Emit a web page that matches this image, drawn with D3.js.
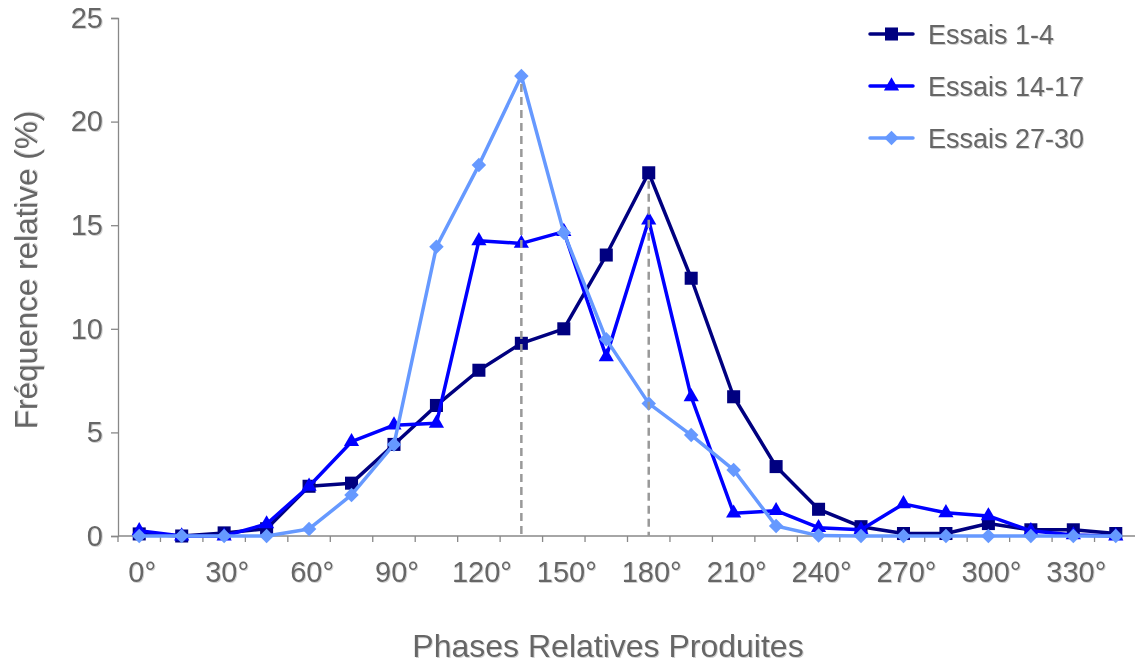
<!DOCTYPE html>
<html>
<head>
<meta charset="utf-8">
<script src="https://cdn.jsdelivr.net/npm/d3@7"></script>
<style>
  html, body { margin: 0; padding: 0; background: #fff; }
  svg { display: block; }
  text { font-family: "Liberation Sans", Arial, sans-serif; }
</style>
</head>
<body>
<svg id="chart" width="1135" height="663"></svg>
<script>
// ---- data ----
const categories = ["0°","15°","30°","45°","60°","75°","90°","105°","120°","135°","150°","165°",
                    "180°","195°","210°","225°","240°","255°","270°","285°","300°","315°","330°","345°"];
const labelledCategories = ["0°","30°","60°","90°","120°","150°","180°","210°","240°","270°","300°","330°"];
const yTicks = [0, 5, 10, 15, 20, 25];
const seriesNames = ["Essais 1-4", "Essais 14-17", "Essais 27-30"];
const essais1_4   = [0.1, 0.0, 0.15, 0.35, 2.4, 2.55, 4.42, 6.3, 8.0, 9.3, 10.0, 13.56, 17.53, 12.44, 6.72, 3.35, 1.29, 0.45, 0.12, 0.12, 0.6, 0.3, 0.3, 0.12];
const essais14_17 = [0.25, 0.0, 0.0, 0.58, 2.4, 4.55, 5.35, 5.44, 14.25, 14.12, 14.69, 8.65, 15.25, 6.72, 1.1, 1.22, 0.4, 0.3, 1.55, 1.12, 0.97, 0.25, 0.05, 0.0];
const essais27_30 = [0.0, 0.0, 0.0, 0.0, 0.34, 1.98, 4.42, 13.96, 17.9, 22.2, 14.64, 9.49, 6.4, 4.87, 3.19, 0.48, 0.02, 0.0, 0.0, 0.0, 0.0, 0.0, 0.0, 0.0];
const dropLineCats   = ["135°", "180°"];
const dropLineValues = [22.2, 17.53];

// ---- styles ----
const colors = ["#000080", "#0000FF", "#6699FF"];
const shapes = ["square", "triangle", "diamond"];
const allSeries = [essais1_4, essais14_17, essais27_30];

const svg = d3.select("#chart");
const defs = svg.append("defs");
const flt = defs.append("filter").attr("id", "shadow").attr("x", "-10%").attr("y", "-10%").attr("width", "130%").attr("height", "140%");
flt.append("feDropShadow").attr("dx", 1).attr("dy", 1).attr("stdDeviation", 0.6)
  .attr("flood-color", "#000").attr("flood-opacity", 0.18);

const mLeft = 118, mRight = 1137, mTop = 18, mBottom = 536;
const x = d3.scaleBand().domain(categories).range([mLeft, mRight]).padding(0);
const cx = c => x(c) + x.bandwidth() / 2;
const y = d3.scaleLinear().domain([0, 25]).range([mBottom, mTop]);

const axisColor = "#888";
const textColor = "#666";

// Y axis
const yAxis = svg.append("g").attr("transform", `translate(${mLeft},0)`)
  .call(d3.axisLeft(y).tickValues(yTicks).tickSize(7).tickPadding(8).tickFormat(d3.format("d")));
yAxis.select(".domain").attr("stroke", axisColor).attr("stroke-width", 1.3);
yAxis.selectAll(".tick line").attr("stroke", axisColor).attr("stroke-width", 1.3);
yAxis.selectAll(".tick text").attr("fill", textColor).attr("font-size", 29)
  .attr("font-family", "Liberation Sans, Arial, sans-serif").attr("filter", "url(#shadow)");

// X axis (ticks between categories)
const xAxisG = svg.append("g").attr("transform", `translate(0,${mBottom})`);
xAxisG.append("line").attr("x1", mLeft).attr("x2", mRight).attr("stroke", axisColor).attr("stroke-width", 1.3);
const boundaries = categories.map(c => x(c)).concat([x(categories[categories.length - 1]) + x.bandwidth()]);
xAxisG.selectAll("line.tk").data(boundaries).join("line").attr("class", "tk")
  .attr("x1", d => d).attr("x2", d => d).attr("y1", 0).attr("y2", 6)
  .attr("stroke", axisColor).attr("stroke-width", 1.3);
xAxisG.selectAll("text.lbl").data(labelledCategories).join("text").attr("class", "lbl")
  .attr("x", d => cx(d) + 3).attr("y", 46).attr("text-anchor", "middle")
  .attr("fill", textColor).attr("font-size", 29).attr("filter", "url(#shadow)")
  .text(d => d);

// Axis titles
svg.append("text").attr("x", 608).attr("y", 657).attr("text-anchor", "middle")
  .attr("fill", textColor).attr("font-size", 32).attr("filter", "url(#shadow)")
  .text("Phases Relatives Produites");
svg.append("text").attr("transform", `translate(37,${(mTop + mBottom) / 2 - 7}) rotate(-90)`)
  .attr("text-anchor", "middle").attr("fill", textColor).attr("font-size", 31.5).attr("filter", "url(#shadow)")
  .text("Fréquence relative (%)");

// Series
const line = d3.line().x((d, i) => cx(categories[i])).y(d => y(d));
function symbolPath(shape) {
  if (shape === "square") return d3.symbol(d3.symbolSquare, 170)();
  if (shape === "triangle") return d3.symbol(d3.symbolTriangle, 100)();
  return d3.symbol(d3.symbolSquare, 105)();
}
function symbolRot(shape) { return shape === "diamond" ? " rotate(45)" : ""; }

allSeries.forEach((vals, si) => {
  const g = svg.append("g");
  g.append("path").datum(vals).attr("d", line).attr("fill", "none")
    .attr("stroke", colors[si]).attr("stroke-width", 3.5).attr("stroke-linejoin", "round");
  g.selectAll("path.m").data(vals).join("path").attr("class", "m")
    .attr("d", symbolPath(shapes[si]))
    .attr("transform", (d, i) => `translate(${cx(categories[i])},${y(d)})${symbolRot(shapes[si])}`)
    .attr("fill", colors[si]);
});

// Dashed drop lines
svg.selectAll("line.drop").data(dropLineCats).join("line").attr("class", "drop")
  .attr("x1", d => cx(d)).attr("x2", d => cx(d))
  .attr("y1", (d, i) => y(dropLineValues[i]) + 8).attr("y2", y(0))
  .attr("stroke", "#999").attr("stroke-width", 2.5).attr("stroke-dasharray", "8,5");

// Legend
const legend = svg.append("g");
const legRows = [34, 86, 138];
seriesNames.forEach((name, si) => {
  const g = legend.append("g").attr("transform", `translate(870,${legRows[si]})`);
  g.append("line").attr("x1", 0).attr("x2", 43).attr("stroke", colors[si]).attr("stroke-width", 3.5)
    .attr("stroke-linecap", "round");
  g.append("path").attr("d", symbolPath(shapes[si]))
    .attr("transform", `translate(21.5,0)${symbolRot(shapes[si])}`).attr("fill", colors[si]);
  g.append("text").attr("x", 58).attr("y", 10).attr("fill", textColor).attr("font-size", 27)
    .attr("filter", "url(#shadow)").text(name);
});
</script>
</body>
</html>
